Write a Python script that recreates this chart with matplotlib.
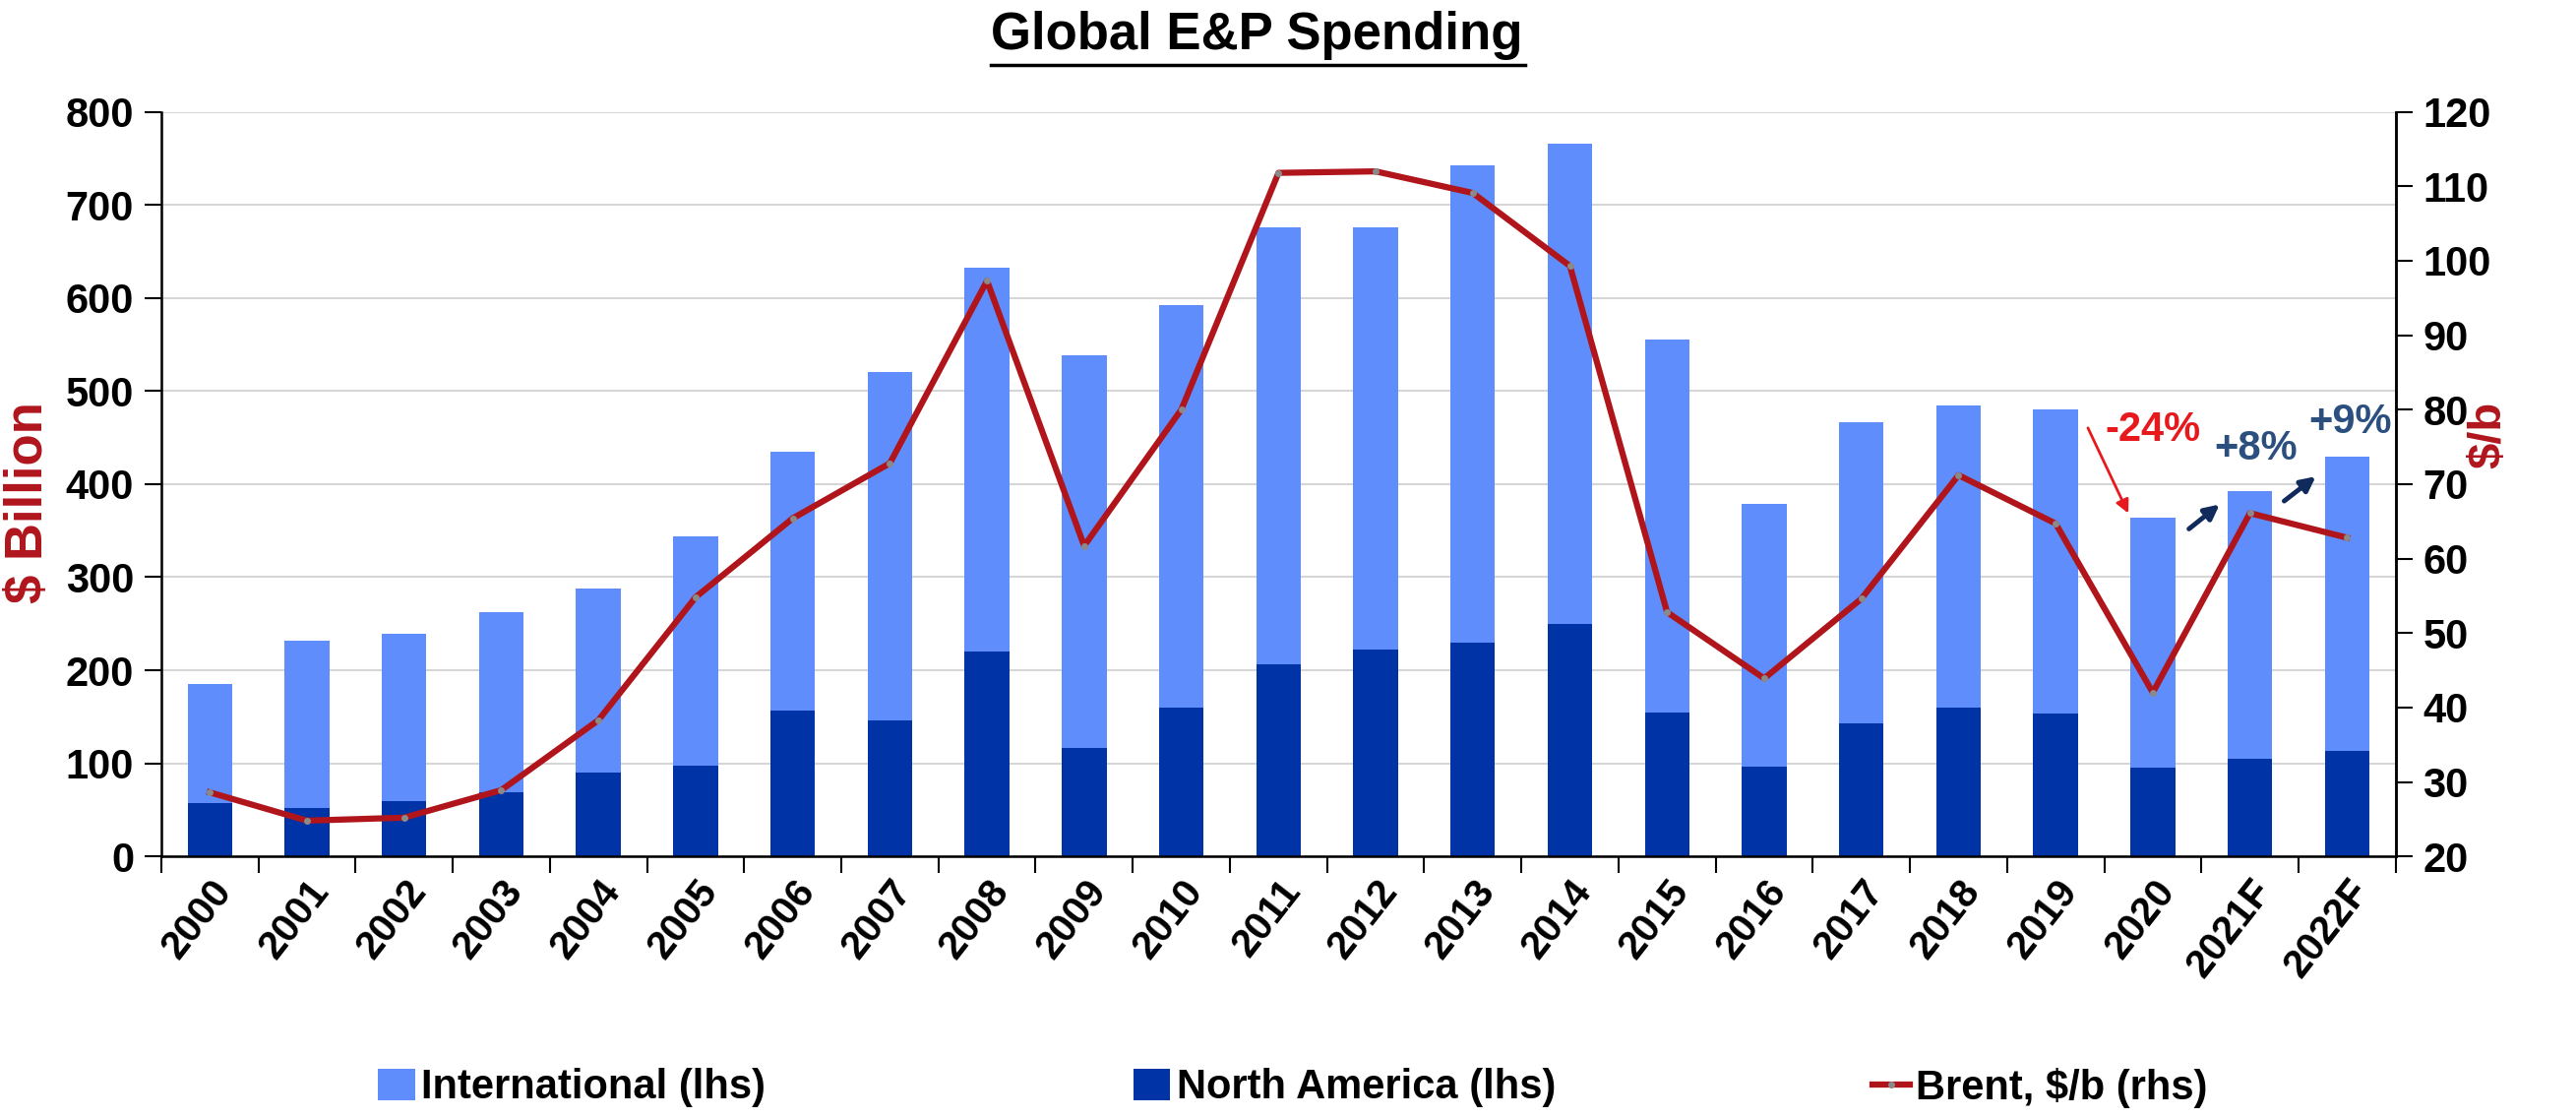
import matplotlib.pyplot as plt
import matplotlib.transforms as mtransforms
import numpy as np

# ---------------
# --- 1. DATA ---
# ---------------
years = ["2000", "2001", "2002", "2003", "2004", "2005", "2006", "2007", "2008",
         "2009", "2010", "2011", "2012", "2013", "2014", "2015", "2016", "2017",
         "2018", "2019", "2020", "2021F", "2022F"]

# total spending (top of the stacked bar), $ billion
total_spend = [185, 232, 239, 262, 288, 344, 435, 520, 632, 538, 592, 676, 676,
               742, 766, 555, 379, 466, 484, 480, 364, 392, 430]
north_america = [57, 52, 59, 69, 90, 97, 157, 146, 220, 117, 160, 206, 222,
                 230, 250, 155, 96, 143, 160, 153, 95, 105, 113]
international = [t - n for t, n in zip(total_spend, north_america)]

brent = [28.6, 24.8, 25.2, 28.9, 38.3, 54.8, 65.4, 72.8, 97.3, 61.7, 80.0,
         111.8, 112.0, 109.1, 99.3, 52.8, 43.9, 54.6, 71.2, 64.7, 42.0, 66.1, 62.8]

LIGHT_BLUE = "#5f8dfb"
DARK_BLUE = "#0033a6"
RED = "#b0151c"
SLATE = "#2b4f7e"

plt.rcParams["font.family"] = ["Liberation Sans", "DejaVu Sans"]

# ---------------------
# --- 2. BAR CHART ---
# ---------------------
fig = plt.figure(figsize=(26.18, 11.36), dpi=100)
ax = fig.add_axes([0.0626, 0.234, 0.8674, 0.666])
x = np.arange(len(years))

ax.bar(x, north_america, width=0.46, color=DARK_BLUE, zorder=2, label="North America (lhs)")
ax.bar(x, international, width=0.46, bottom=north_america, color=LIGHT_BLUE, zorder=2,
       label="International (lhs)")

ax.set_xlim(-0.5, len(years) - 0.5)
ax.set_ylim(0, 800)
ax.set_yticks(np.arange(0, 801, 100))
ax.grid(axis="y", color="#d6d6d6", linewidth=1.5, zorder=0)
ax.set_axisbelow(True)

ax.set_xticks(x)
ax.set_xticklabels(years, rotation=52, ha="right", rotation_mode="anchor",
                   fontsize=29, fontweight="bold")
shift = mtransforms.ScaledTranslation(0.36, 0, fig.dpi_scale_trans)
for lbl in ax.get_xticklabels():
    lbl.set_transform(lbl.get_transform() + shift)
ax.tick_params(axis="x", which="major", length=0, pad=12)
ax.set_xticks(np.arange(-0.5, len(years), 1), minor=True)
ax.tick_params(axis="x", which="minor", length=12, width=1.5, direction="out")
ax.tick_params(axis="y", labelsize=30, length=12, width=1.5, direction="out", pad=8)
for lbl in ax.get_yticklabels():
    lbl.set_fontweight("bold")

ax.spines["top"].set_visible(False)
for side in ["left", "bottom", "right"]:
    ax.spines[side].set_linewidth(1.8)

# ------------------------
# --- 3. BRENT (RHS) ---
# ------------------------
ax2 = ax.twinx()
ax2.plot(x, brent, color=RED, linewidth=4.5, marker="o", markersize=4,
         markerfacecolor="#8a8a8a", markeredgecolor="#8a8a8a", zorder=3,
         label="Brent, $/b (rhs)")
ax2.set_ylim(20, 120)
ax2.set_yticks(np.arange(20, 121, 10))
ax2.tick_params(axis="y", labelsize=30, length=12, width=1.5, direction="out", pad=8)
for lbl in ax2.get_yticklabels():
    lbl.set_fontweight("bold")
ax2.spines["top"].set_visible(False)
ax2.spines["right"].set_linewidth(1.8)

# ---------------------------
# --- 4. TEXT / ANNOTATIONS ---
# ---------------------------
fig.text(0.488, 0.968, "Global E&P Spending", ha="center", va="center",
         fontsize=38, fontweight="bold")
fig.add_artist(plt.Line2D([0.3846, 0.592], [0.942, 0.942], color="black", linewidth=2.5))

fig.text(0.011, 0.551, "$ Billion", rotation=90, ha="center", va="center",
         fontsize=38, fontweight="bold", color=RED)
fig.text(0.966, 0.611, "$/b", rotation=90, ha="center", va="center",
         fontsize=34, fontweight="bold", color=RED)

ax.text(20.0, 458, "-24%", ha="center", va="center", fontsize=30,
        fontweight="bold", color="#e8191c")
ax.annotate("", xy=(19.76, 366), xytext=(19.32, 463),
            arrowprops=dict(arrowstyle="-|>", color="#e8191c", lw=2, mutation_scale=20))

ax.text(21.06, 438, "+8%", ha="center", va="center", fontsize=30,
        fontweight="bold", color=SLATE)
ax.annotate("", xy=(20.71, 380), xytext=(20.35, 350),
            arrowprops=dict(arrowstyle="-|>", color="#102a5c", lw=3.5, mutation_scale=22))

ax.text(22.03, 466, "+9%", ha="center", va="center", fontsize=30,
        fontweight="bold", color=SLATE)
ax.annotate("", xy=(21.70, 410), xytext=(21.33, 380),
            arrowprops=dict(arrowstyle="-|>", color="#102a5c", lw=3.5, mutation_scale=22))

# -----------------
# --- 5. LEGEND ---
# -----------------
h1, l1 = ax.get_legend_handles_labels()
h2, l2 = ax2.get_legend_handles_labels()
items = [(h1[1], l1[1], 0.1467), (h1[0], l1[0], 0.440), (h2[0], l2[0], 0.727)]
for handle, label, xpos in items:
    leg = fig.legend([handle], [label], loc="center left", bbox_to_anchor=(xpos, 0.027),
                     frameon=False, handlelength=0.9, handleheight=0.8, handletextpad=0.15,
                     borderpad=0, borderaxespad=0,
                     prop={"weight": "bold", "size": 30})

fig.savefig("out.png", dpi=100)
